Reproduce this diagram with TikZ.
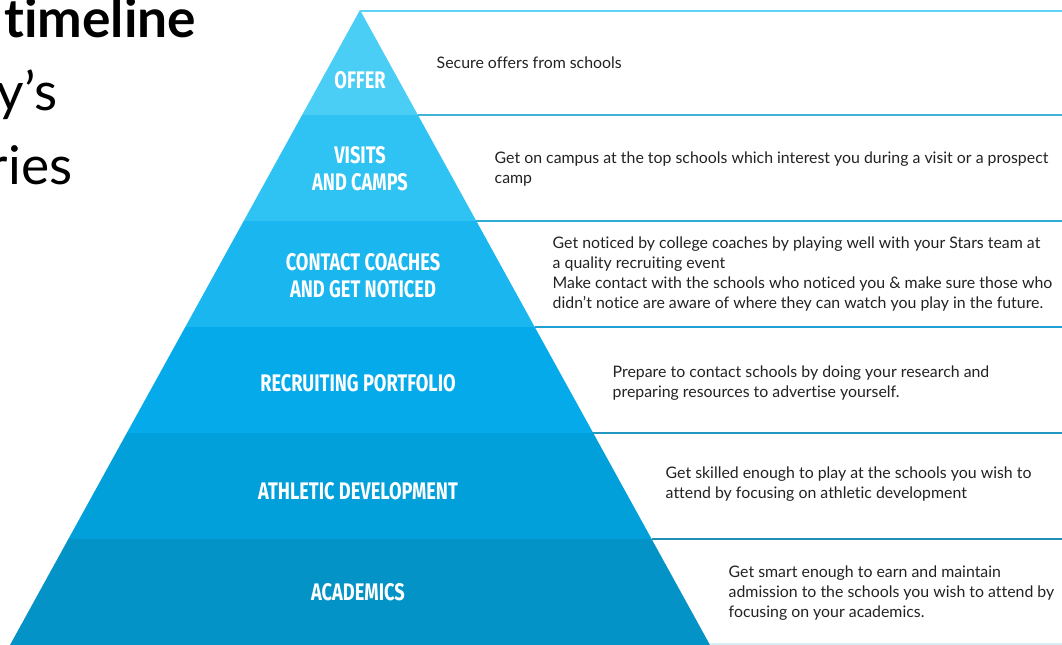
\documentclass[tikz,border=0pt]{standalone}
\usepackage{fontspec}
\setmainfont{Lato}[Ligatures=NoCommon]
\newfontfamily\bandfont{Fira Sans}[FakeStretch=0.76]

\definecolor{offer}{HTML}{4BCEF5}
\definecolor{visits}{HTML}{2EC3F3}
\definecolor{contact}{HTML}{1AB6EF}
\definecolor{portfolio}{HTML}{05AAEA}
\definecolor{athletic}{HTML}{01A0DA}
\definecolor{academics}{HTML}{0393C6}
\definecolor{notegray}{HTML}{222222}

\tikzset{
  bandlabel/.style={text=white, align=center, font=\bandfont\bfseries\fontsize{18}{20.5}\selectfont},
  note/.style={anchor=west, align=left, text=notegray, font=\fontsize{11.9}{15}\selectfont},
  rule/.style={line width=1.6pt},
  title/.style={anchor=base east, font=\fontsize{40}{48}\selectfont}
}

\begin{document}
\begin{tikzpicture}[x=0.75pt,y=-0.75pt]
\useasboundingbox (0,0) rectangle (1062,645);
\clip (0,0) rectangle (1062,645);

% heading, cut off at the left
\node[title, font=\bfseries\fontsize{40}{48}\selectfont] (t1) at (201,38) {timeline};
\node[title] (t2) at (62,111) {y’s};
\node[title] (t3) at (77,185) {ries};

% pyramid, top to bottom
\fill[offer]     (360,10) -- (417.9,115) -- (302.1,115) -- cycle;
\fill[visits]    (302.1,115) -- (417.9,115) -- (476.3,221) -- (243.7,221) -- cycle;
\fill[contact]   (243.7,221) -- (476.3,221) -- (534.7,327) -- (185.3,327) -- cycle;
\fill[portfolio] (185.3,327) -- (534.7,327) -- (593.2,433) -- (126.8,433) -- cycle;
\fill[athletic]  (126.8,433) -- (593.2,433) -- (651.6,539) -- (68.4,539) -- cycle;
\fill[academics] (68.4,539) -- (651.6,539) -- (710,645) -- (10,645) -- cycle;

% rules out to the right
\draw[rule, color=offer!90!white] (360,11) -- (1062,11);
\draw[rule, color=visits!75!gray] (417.9,115) -- (1062,115);
\draw[rule, color=contact!78!gray] (476.3,221) -- (1062,221);
\draw[rule, color=portfolio!80!gray] (534.7,327) -- (1062,327);
\draw[rule, color=athletic!72!gray] (593.2,433) -- (1062,433);
\draw[rule, color=academics!75!gray] (651.6,539) -- (1062,539);
\draw[line width=0.8pt, color=academics!15!white] (710,644) -- (1062,644);

% labels
\node[bandlabel] (offer) at (360,80) {OFFER};
\node[bandlabel] (visits) at (360,169) {VISITS\\AND CAMPS};
\node[bandlabel] (contact) at (363,276) {CONTACT COACHES\\AND GET NOTICED};
\node[bandlabel] (portfolio) at (358,383) {RECRUITING PORTFOLIO};
\node[bandlabel] (athletic) at (358,491) {ATHLETIC DEVELOPMENT};
\node[bandlabel] (academics) at (358,592) {ACADEMICS};

% notes
\node[note] (n1) at (432,63) {Secure offers from schools};
\node[note] (n2) at (490,169) {Get on campus at the top schools which interest you during a visit or a prospect\\camp};
\node[note] (n3) at (548,274) {Get noticed by college coaches by playing well with your Stars team at\\a quality recruiting event\\Make contact with the schools who noticed you \& make sure those who\\didn’t notice are aware of where they can watch you play in the future.};
\node[note] (n4) at (608,383) {Prepare to contact schools by doing your research and\\preparing resources to advertise yourself.};
\node[note] (n5) at (661,484) {Get skilled enough to play at the schools you wish to\\attend by focusing on athletic development};
\node[note] (n6) at (724,593) {Get smart enough to earn and maintain\\admission to the schools you wish to attend by\\focusing on your academics.};
\end{tikzpicture}
\end{document}
